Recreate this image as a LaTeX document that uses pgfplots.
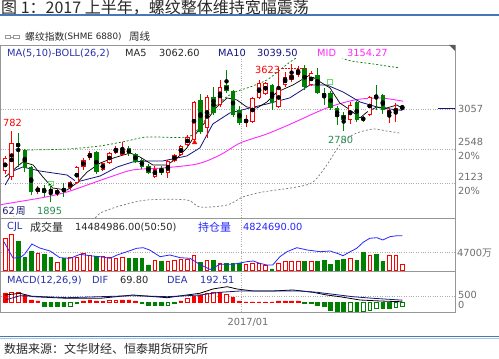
\documentclass[border=0pt]{standalone}
\usepackage{pgfplots}
\usepackage{pgfplotstable}
\pgfplotsset{compat=1.18}
\usepackage{fontspec}
\setmainfont{DejaVu Sans}
\newfontfamily\cjk{Noto Sans CJK SC}

\definecolor{cred}{RGB}{255,0,0}
\definecolor{cgreen}{RGB}{0,128,0}
\definecolor{ma10c}{RGB}{20,20,130}
\definecolor{midc}{RGB}{255,40,255}
\definecolor{upbc}{RGB}{0,120,0}
\definecolor{dnbc}{RGB}{120,120,120}
\definecolor{oic}{RGB}{40,40,255}
\definecolor{framec}{RGB}{150,150,150}
\definecolor{labc}{RGB}{110,110,110}
\definecolor{hdrc}{RGB}{40,50,170}
\definecolor{navyc}{RGB}{30,30,120}
\definecolor{sepc}{RGB}{70,120,180}
\definecolor{sepl}{RGB}{170,196,224}
\definecolor{sigc}{RGB}{110,220,110}
\definecolor{lowc}{RGB}{40,140,80}
\definecolor{txtc}{RGB}{40,40,40}

\newcommand{\fa}{\fontsize{9.8bp}{11bp}\selectfont}

% weekly candles, rising (red, hollow)
\pgfplotstableread{
i O H L C
-1 2280 2470 2240 2440
0 2210 2782 2170 2630
4 2020 2100 2000 2070
7 1990 2060 1970 2045
9 2070 2160 2050 2145
10 2130 2340 2120 2330
11 2330 2450 2300 2420
12 2445 2530 2420 2507
14 2295 2400 2280 2382
15 2382 2520 2370 2507
16 2507 2590 2500 2570
17 2482 2645 2470 2557
22 2210 2340 2190 2305
24 2257 2420 2200 2405
25 2407 2500 2390 2482
26 2482 2610 2470 2595
27 2607 2730 2590 2707
28 2670 3160 2650 3140
30 2820 3230 2695 3207
32 3107 3420 3080 3330
36 2900 2982 2832 2915
37 2895 3210 2880 3195
38 3195 3420 3180 3380
39 3250 3400 3230 3385
41 3082 3570 3070 3320
42 3357 3520 3330 3457
43 3420 3623 3400 3482
44 3482 3600 3460 3545
46 3357 3530 3340 3507
52 2920 3140 2870 3107
55 2982 3220 2970 3207
58 2982 3070 2880 3045
59 3007 3130 2895 3070
60 3060 3110 3050 3085
}\tabUp

% weekly candles, falling (green, filled)
\pgfplotstableread{
i O H L C
1 2630 2760 2330 2580
2 2545 2560 2270 2320
3 2330 2340 1980 2020
5 2070 2110 1960 2005
6 2060 2120 1895 2010
8 2070 2130 1960 2020
13 2520 2530 2250 2270
18 2570 2590 2470 2490
19 2500 2510 2380 2400
20 2420 2440 2310 2335
21 2340 2370 2240 2260
23 2320 2340 2230 2260
29 3170 3240 2740 2770
31 3210 3330 2980 3010
33 3357 3545 3260 3282
34 3282 3300 2960 2985
35 3045 3100 2860 2885
40 3357 3370 3050 3135
45 3570 3610 3300 3335
47 3482 3570 3240 3260
48 3257 3320 3110 3207
49 3257 3280 3040 3070
50 3070 3100 2860 2957
51 2982 3020 2780 2920
53 3145 3160 2890 2920
54 2945 2970 2900 2920
56 3232 3357 3045 3195
57 3232 3250 3000 3045
}\tabDn

% volume (wan)
\pgfplotstableread{
i V
-1 8200
0 9136
4 4367
7 2108
9 3263
10 3263
11 4367
12 3941
14 3514
15 3263
16 3112
17 3263
22 2686
24 2435
25 2686
26 2937
27 2937
28 3765
30 2686
32 1933
36 1606
37 1857
38 1857
39 1431
41 1857
42 2259
43 2259
44 2259
46 2259
52 3112
55 3941
58 3765
59 3765
60 1556
}\volUp
\pgfplotstableread{
i V
1 7279
2 3263
3 4945
5 4116
6 3263
8 3112
13 3690
18 3112
19 3112
20 3112
21 1431
23 2259
29 2184
31 2686
33 1857
34 1857
35 1857
40 427
45 2259
47 2435
48 2686
49 1606
50 2686
51 2937
53 2686
54 4618
56 4116
57 2309
}\volDn

% MACD histogram
\pgfplotstableread{
i M
-1 728
2 578
3 203
4 128
11 128
12 203
13 128
17 203
18 203
19 128
26 128
28 450
29 560
32 780
34 375
35 128
36 53
37 53
38 53
39 53
40 53
41 128
42 128
43 128
44 128
}\mRF
\pgfplotstableread{
i M
0 780
1 780
14 128
15 203
16 203
27 330
30 705
31 780
33 653
}\mRH
\pgfplotstableread{
i M
5 -300
6 -300
7 -300
8 -300
10 -60
20 -60
21 -173
22 -225
23 -225
25 -60
45 -60
46 -60
47 -173
48 -300
49 -600
50 -675
51 -675
53 -675
57 -420
58 -420
}\mGF
\pgfplotstableread{
i M
9 -300
24 -173
52 -675
54 -675
55 -548
56 -420
59 -345
60 -300
}\mGH

\pgfplotsset{
  panel/.style={
    scale only axis, width=454.5bp, anchor=south west,
    xmin=-1.72, xmax=68.1,
    axis line style={draw=framec, line width=0.7bp},
    major tick length=0pt,
    xtick={35.22}, xticklabels={}, yticklabels={},
    xmajorgrids, ymajorgrids,
    grid style={draw=gray!65, line width=0.5bp, dash pattern=on 0.8bp off 1.6bp},
  },
}

\begin{document}
\begin{tikzpicture}
\fill[white] (0,0) rectangle (499bp,359bp);
\path[use as bounding box] (0,0) rectangle (499bp,359bp);

% ---------------- price panel
\begin{axis}[panel, at={(0.5bp,141bp)}, height=173bp,
  ymin=1694.5, ymax=3857, ytick={2123,2548,3057}]
\addplot[dnbc, line width=0.7bp, dash pattern=on 2bp off 2bp, smooth] coordinates {
(10,1600) (12.8,1694) (13.6,1757) (16.6,1845) (20.8,1920) (26.9,1920) (28.9,1832) (33.1,1857) (35.5,1957) (38.6,2020) (43.8,2082) (46.3,2145) (48.4,2357) (50.4,2607) (51.9,2707) (53,2757) (55.5,2807) (57.6,2782) (59.6,2757)};
\addplot[upbc, line width=0.7bp, dash pattern=on 2bp off 2bp, smooth] coordinates {
(2.4,2544) (8.5,2557) (13.6,2595) (17.7,2657) (20.8,2707) (26.9,2707) (28.9,2832) (31.5,3107) (34,3257) (36.6,3332) (39.2,3420) (41.2,3545) (43.2,3670) (45.4,3770) (47.4,3820) (49.4,3770) (51.5,3670) (55.5,3620) (59.6,3570)};
\addplot[midc, line width=0.9bp, smooth] coordinates {
(-1.8,1860) (4.8,1950) (8.5,2020) (11.6,2107) (15.1,2207) (18.6,2295) (23.2,2320) (28.5,2370) (32,2482) (35.1,2632) (39.2,2745) (43.2,2882) (48.4,3070) (52.7,3170) (56.6,3195) (60.1,3154)};
\addplot[ma10c, line width=0.8bp] coordinates {
(-1,2107) (0.2,2282) (1.7,2332) (4.3,2282) (8.5,2232) (10,2145) (13.6,2220) (16.2,2332) (18.6,2395) (21.2,2407) (23.2,2407) (26.9,2470) (28.9,2570) (30.9,2870) (33.5,3007) (36.6,3070) (39.2,3120) (42.7,3195) (45.8,3357) (48.4,3357) (50.9,3270) (53.5,3145) (56.6,3070) (60,3040)};
\addplot[black, line width=0.7bp] coordinates {
(-1,2207) (1.7,2395) (3.3,2357) (4.8,2207) (6.3,2069) (8.5,2044) (10,2132) (11.6,2270) (13.6,2382) (15.6,2444) (18.2,2507) (19.7,2457) (21.7,2357) (23.9,2357) (25.4,2444) (26.9,2570) (28.5,2770) (30,2920) (31.5,3082) (33.1,3195) (34.6,3170) (36.1,3082) (37.7,3070) (39.2,3145) (40.8,3270) (43.2,3357) (45.8,3482) (47.4,3395) (48.9,3320) (50.4,3132) (52,3045) (53.5,2945) (54.6,3020) (56.1,3082) (57.6,3070) (59.2,3107) (60,3062)};
% wicks
\addplot[only marks, mark=none, error bars/.cd, y dir=both, y explicit, error mark=none,
  error bar style={solid, line width=0.9bp, draw=cred}]
  table[x=i, y expr={(\thisrow{H}+\thisrow{L})/2}, y error expr={(\thisrow{H}-\thisrow{L})/2}] {\tabUp};
\addplot[only marks, mark=none, error bars/.cd, y dir=both, y explicit, error mark=none,
  error bar style={solid, line width=0.9bp, draw=cgreen}]
  table[x=i, y expr={(\thisrow{H}+\thisrow{L})/2}, y error expr={(\thisrow{H}-\thisrow{L})/2}] {\tabDn};
% bodies
\addplot[only marks, mark=none, error bars/.cd, y dir=both, y explicit, error mark=none,
  error bar style={solid, line width=4.4bp, draw=cred}]
  table[x=i, y expr={(\thisrow{O}+\thisrow{C})/2}, y error expr={(\thisrow{C}-\thisrow{O})/2}] {\tabUp};
\addplot[only marks, mark=none, error bars/.cd, y dir=both, y explicit, error mark=none,
  error bar style={solid, line width=2.8bp, draw=white}]
  table[x=i, y expr={(\thisrow{O}+\thisrow{C})/2}, y error expr={max((\thisrow{C}-\thisrow{O})/2-10,0)}] {\tabUp};
\addplot[only marks, mark=none, error bars/.cd, y dir=both, y explicit, error mark=none,
  error bar style={solid, line width=4.4bp, draw=cgreen}]
  table[x=i, y expr={(\thisrow{O}+\thisrow{C})/2}, y error expr={(\thisrow{O}-\thisrow{C})/2}] {\tabDn};
% signals and markers
\addplot[only marks, mark=square, mark size=2.2bp, draw=sigc, line width=0.8bp] coordinates {(6.05,2126) (48.9,3395)};
\addplot[only marks, mark=triangle*, mark size=2.6bp, draw=cred, fill=cred] coordinates {(28.1,2638)};
\addplot[ma10c, line width=1bp] coordinates {(65.5,3057) (68.1,3057)};
\addplot[cred, line width=0.6bp, dash pattern=on 2bp off 1bp] coordinates {(41.6,3570) (45.3,3570)};
\end{axis}

% ---------------- volume panel
\begin{axis}[panel, at={(0.5bp,88bp)}, height=53bp,
  ymin=-75, ymax=13230, ytick={4700}]
\addplot[ybar, bar width=3.6bp, bar shift=0pt, draw=cred, fill=white, line width=0.8bp] table[x=i, y=V] {\volUp};
\addplot[ybar, bar width=3.6bp, bar shift=0pt, draw=cgreen, fill=cgreen, line width=0.8bp] table[x=i, y=V] {\volDn};
\end{axis}
\begin{axis}[scale only axis, width=454.5bp, height=53bp, anchor=south west, at={(0.5bp,88bp)},
  hide axis, xmin=-1.72, xmax=68.1, ymin=200.1, ymax=624.1]
\addplot[oic, line width=0.8bp] coordinates {
(-1.2,434.5) (0.2,304.1) (1.3,306.5) (2.0,336.1) (3.1,416.1) (4.3,384.1) (5.9,360.1) (7.4,306.5) (9.0,301.7) (10.5,333.7) (12.0,322.5) (13.6,314.5) (15.1,301.7) (16.2,328.1) (17.7,354.5) (19.2,381.7) (20.2,386.5) (21.2,368.1) (22.8,314.5) (24.3,328.1) (25.9,306.5) (27.4,301.7) (28.9,252.1) (30.5,212.1) (32.0,253.7) (34.0,253.7) (36.1,274.5) (37.1,280.1) (38.1,261.7) (39.2,248.1) (40.1,248.1) (41.2,314.5) (42.3,354.5) (43.8,386.5) (45.4,368.1) (47.4,354.5) (48.9,360.1) (50.0,341.7) (50.9,322.5) (52.0,354.5) (53.0,381.7) (54.0,430) (55.0,461.7) (56.1,466.5) (57.0,448.1) (58.1,474.5) (59.2,482.5) (60.0,482.5)};
\end{axis}

% ---------------- MACD panel
\begin{axis}[panel, at={(0.5bp,47bp)}, height=41bp,
  ymin=-697.5, ymax=2377.5, ytick={500}]
\addplot[ybar, bar width=3.6bp, bar shift=0pt, draw=cred, fill=cred, line width=0.8bp] table[x=i, y=M] {\mRF};
\addplot[ybar, bar width=3.6bp, bar shift=0pt, draw=cred, fill=white, line width=0.8bp] table[x=i, y=M] {\mRH};
\addplot[ybar, bar width=3.6bp, bar shift=0pt, draw=cgreen, fill=cgreen, line width=0.8bp] table[x=i, y=M] {\mGF};
\addplot[ybar, bar width=3.6bp, bar shift=0pt, draw=cgreen, fill=white, line width=0.8bp] table[x=i, y=M] {\mGH};
\addplot[black, line width=0.8bp] coordinates {
(-1,578) (1.3,705) (3.3,450) (8.5,330) (13.6,330) (18.6,578) (23.9,375) (26.9,578) (28.9,705) (30.9,1028) (33.1,1200) (34.6,1028) (37.1,878) (40.1,878) (43.2,953) (46.3,780) (48.4,578) (50.4,450) (53.5,203) (56.6,128) (60,70)};
\addplot[ma10c, line width=0.8bp] coordinates {
(-1,203) (1.3,525) (8.5,375) (13.6,450) (18.6,525) (23.9,450) (28.9,578) (32,780) (35.1,878) (39.2,878) (44.3,878) (46.9,780) (49.4,630) (52.4,450) (55.5,330) (60,192)};
\end{axis}

% ---------------- decorations and texts
\fill[white] (1.2bp,301bp) rectangle (400bp,311.5bp);
\fill[gray!70!black] (449bp,314bp) -- (455bp,314bp) -- (455bp,308bp) -- cycle;

\node[anchor=west, inner sep=0pt, text=txtc] at (1bp,351.5bp) {\cjk\fontsize{16bp}{18bp}\selectfont 图 1：2017 上半年，螺纹整体维持宽幅震荡};
\draw[sepc, line width=1.8bp] (0,344.0bp) -- (499bp,344.0bp);

\draw[gray!80, line width=0.6bp] (5bp,320.3bp) rectangle (10.5bp,323.7bp);
\draw[gray!80, line width=0.6bp] (13.5bp,320.3bp) rectangle (19bp,323.7bp);
\draw[gray!80, line width=0.6bp] (10.5bp,322bp) -- (13.5bp,322bp);
\node[anchor=west, inner sep=0pt, text=txtc] at (25bp,322bp) {\cjk\fontsize{9.8bp}{11bp}\selectfont 螺纹指数};
\node[anchor=west, inner sep=0pt, text=txtc] at (64bp,322bp) {\fontsize{8.8bp}{10bp}\selectfont (SHME 6880)};
\node[anchor=west, inner sep=0pt, text=txtc] at (129bp,322bp) {\cjk\fontsize{10.5bp}{11bp}\selectfont 周线};

\node[anchor=west, inner sep=0pt, text=hdrc] at (7bp,306bp) {\fa MA(5,10)-BOLL(26,2)};
\node[anchor=west, inner sep=0pt, text=txtc] at (125bp,306bp) {\fa MA5};
\node[anchor=west, inner sep=0pt, text=txtc] at (159bp,306bp) {\fa 3062.60};
\node[anchor=west, inner sep=0pt, text=ma10c] at (218bp,306bp) {\fa MA10};
\node[anchor=west, inner sep=0pt, text=ma10c] at (257bp,306bp) {\fa 3039.50};
\node[anchor=west, inner sep=0pt, text=midc] at (317bp,306bp) {\fa MID};
\node[anchor=west, inner sep=0pt, text=midc] at (347bp,306bp) {\fa 3154.27};

\node[anchor=west, inner sep=0pt, text=cred] at (3bp,236bp) {\fa 782};
\node[anchor=west, inner sep=0.6bp, fill=white, text=navyc] at (1.5bp,147.8bp) {\fa 62\kern1bp{\cjk\fontsize{9.8bp}{11bp}\selectfont 周}};
\node[anchor=west, inner sep=0pt, text=lowc] at (37bp,148.5bp) {\fa 1895};
\node[anchor=west, inner sep=0pt, text=cred] at (255bp,289bp) {\fa 3623};
\node[anchor=west, inner sep=0pt, text=lowc] at (328bp,219bp) {\fa 2780};

\node[anchor=west, inner sep=0pt, text=labc] at (458bp,250bp) {\fa 3057};
\node[anchor=west, inner sep=0pt, text=labc] at (458bp,217bp) {\fa 2548};
\node[anchor=west, inner sep=0pt, text=labc] at (458bp,203.5bp) {\fa 20\%};
\node[anchor=west, inner sep=0pt, text=labc] at (458bp,182bp) {\fa 2123};
\node[anchor=west, inner sep=0pt, text=labc] at (458bp,168bp) {\fa 20\%};
\node[anchor=west, inner sep=0pt, text=labc] at (457bp,106bp) {\fa 4700{\cjk 万}};
\node[anchor=west, inner sep=0pt, text=labc] at (458bp,64.5bp) {\fa 500};
\node[anchor=west, inner sep=0pt, text=labc] at (458bp,54bp) {\fa 0};

\node[anchor=west, inner sep=0pt, text=hdrc] at (7bp,132bp) {\fa CJL};
\node[anchor=west, inner sep=0pt, text=txtc] at (30bp,132bp) {\cjk\fontsize{11bp}{12bp}\selectfont 成交量};
\node[anchor=west, inner sep=0pt, text=txtc] at (75bp,132bp) {\fa 14484986.00(50:50)};
\node[anchor=west, inner sep=0pt, text=oic] at (198bp,132bp) {\cjk\fontsize{11bp}{12bp}\selectfont 持仓量};
\node[anchor=west, inner sep=0pt, text=oic] at (243bp,132bp) {\fa 4824690.00};

\node[anchor=west, inner sep=0pt, text=hdrc] at (7bp,79bp) {\fa MACD(12,26,9)};
\node[anchor=west, inner sep=0pt, text=hdrc] at (92bp,79bp) {\fa DIF};
\node[anchor=west, inner sep=0pt, text=txtc] at (120bp,79bp) {\fa 69.80};
\node[anchor=west, inner sep=0pt, text=hdrc] at (167bp,79bp) {\fa DEA};
\node[anchor=west, inner sep=0pt, text=hdrc] at (200bp,79bp) {\fa 192.51};

\node[inner sep=0pt, text=labc] at (248bp,37bp) {\fa 2017/01};

\draw[sepc, line width=1.3bp] (0,22.3bp) -- (499bp,22.3bp);
\draw[sepl, line width=1.6bp] (0,20.6bp) -- (499bp,20.6bp);
\node[anchor=west, inner sep=0pt, text=txtc] at (4bp,10bp) {\cjk\fontsize{12bp}{13bp}\selectfont 数据来源：文华财经、恒泰期货研究所};
\end{tikzpicture}
\end{document}
